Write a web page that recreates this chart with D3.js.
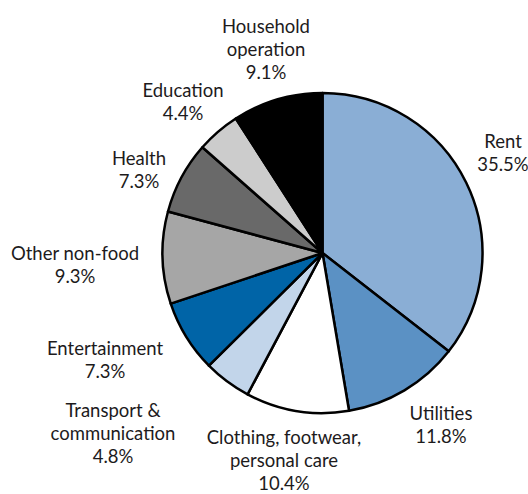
<!DOCTYPE html>
<html>
<head>
<meta charset="utf-8">
<script src="https://cdn.jsdelivr.net/npm/d3@7/dist/d3.min.js"></script>
<style>
  html, body { margin: 0; padding: 0; background: #ffffff; }
  svg { display: block; }
  text { font-family: Lato, "Noto Sans", sans-serif; fill: #1d1b1c; }
</style>
</head>
<body>
<svg id="chart" width="528" height="494"></svg>
<script>
// Spending shares, clockwise from twelve o'clock
const categories = [
  "Rent", "Utilities", "Clothing, footwear, personal care",
  "Transport & communication", "Entertainment", "Other non-food",
  "Health", "Education", "Household operation"
];
const shares = [35.5, 11.8, 10.4, 4.8, 7.3, 9.3, 7.3, 4.4, 9.1];
const sliceColors = [
  "#8aaed5", "#5b91c4", "#ffffff", "#c2d5ea", "#0064a7",
  "#a6a6a6", "#696969", "#cccccc", "#000000"
];
// How each category name wraps in its label
const labelLines = [
  ["Rent"], ["Utilities"], ["Clothing, footwear,", "personal care"],
  ["Transport &", "communication"], ["Entertainment"], ["Other non-food"],
  ["Health"], ["Education"], ["Household", "operation"]
];
// Label anchor (centre x, first baseline y)
const labelAnchor = [
  [503, 148], [441, 420], [284, 444], [113, 417], [105, 355],
  [75, 260], [139, 165], [183, 97], [266, 33]
];

const cx = 322.5, cy = 253, radius = 160;
const lineHeight = 23;

const svg = d3.select("#chart");
const data = categories.map((c, i) => ({ name: c, value: shares[i], i }));

const pie = d3.pie().value(d => d.value).sort(null);
const arc = d3.arc().innerRadius(0).outerRadius(radius);

svg.append("g")
  .attr("transform", `translate(${cx},${cy})`)
  .selectAll("path")
  .data(pie(data))
  .join("path")
  .attr("d", arc)
  .attr("fill", d => sliceColors[d.data.i])
  .attr("stroke", "#000")
  .attr("stroke-width", 2.5)
  .attr("stroke-linejoin", "round");

const fmt = d3.format(".1f");
const labels = svg.append("g")
  .selectAll("text")
  .data(data)
  .join("text")
  .attr("text-anchor", "middle")
  .attr("font-size", 18.5)
  .attr("x", d => labelAnchor[d.i][0])
  .attr("y", d => labelAnchor[d.i][1]);

labels.each(function(d) {
  const t = d3.select(this);
  const lines = labelLines[d.i].concat([fmt(d.value) + "%"]);
  lines.forEach((line, k) => {
    t.append("tspan")
      .attr("x", labelAnchor[d.i][0])
      .attr("dy", k === 0 ? 0 : lineHeight)
      .text(line);
  });
});
</script>
</body>
</html>
